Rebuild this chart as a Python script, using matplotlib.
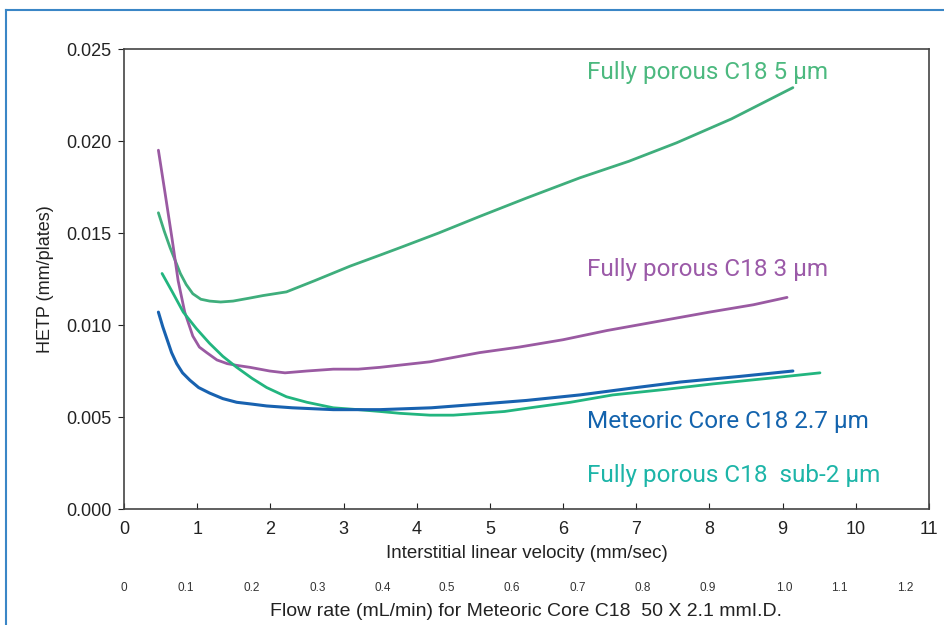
import matplotlib
matplotlib.use("Agg")
import matplotlib.pyplot as plt
from matplotlib.lines import Line2D

# ---- data ----
x_5um = [0.47, 0.55, 0.63, 0.70, 0.77, 0.85, 0.94, 1.05, 1.17, 1.32, 1.49, 1.70, 1.90, 2.22,
         2.60, 3.09, 3.50, 3.77, 4.30, 4.86, 5.50, 6.23, 6.90, 7.55, 8.30, 9.14]
y_5um = [0.0161, 0.0151, 0.0142, 0.0135, 0.0128, 0.0122, 0.0117, 0.0114, 0.0113, 0.01125, 0.0113, 0.01145, 0.0116, 0.0118,
         0.0124, 0.0132, 0.0138, 0.0142, 0.0150, 0.0159, 0.0169, 0.0180, 0.0189, 0.0199, 0.0212, 0.0229]

x_3um = [0.47, 0.56, 0.66, 0.74, 0.83, 0.94, 1.03, 1.13, 1.27, 1.41, 1.55, 1.72, 1.99, 2.20,
         2.50, 2.86, 3.20, 3.50, 4.18, 4.86, 5.40, 6.00, 6.60, 7.30, 8.00, 8.60, 9.06]
y_3um = [0.0195, 0.0172, 0.0146, 0.0124, 0.0107, 0.0094, 0.0088, 0.0085, 0.0081, 0.0079, 0.0078, 0.0077, 0.0075, 0.0074,
         0.0075, 0.0076, 0.0076, 0.0077, 0.0080, 0.0085, 0.0088, 0.0092, 0.0097, 0.0102, 0.0107, 0.0111, 0.0115]

x_core = [0.47, 0.53, 0.59, 0.65, 0.72, 0.80, 0.90, 1.02, 1.17, 1.35, 1.54, 1.75, 1.95, 2.30,
          2.86, 3.50, 4.20, 4.86, 5.50, 6.23, 7.00, 7.60, 8.40, 9.14]
y_core = [0.0107, 0.0099, 0.0092, 0.0085, 0.0079, 0.0074, 0.0070, 0.0066, 0.0063, 0.0060, 0.0058, 0.0057, 0.0056, 0.0055,
          0.0054, 0.0054, 0.0055, 0.0057, 0.0059, 0.0062, 0.0066, 0.0069, 0.0072, 0.0075]

x_sub2 = [0.52, 0.66, 0.81, 0.99, 1.17, 1.35, 1.54, 1.75, 1.95, 2.22, 2.50, 2.86, 3.20, 3.50,
          3.77, 4.18, 4.50, 4.86, 5.20, 5.55, 6.10, 6.68, 7.40, 8.05, 8.80, 9.51]
y_sub2 = [0.0128, 0.0118, 0.0107, 0.0098, 0.0090, 0.0083, 0.0077, 0.0071, 0.0066, 0.0061, 0.0058, 0.0055, 0.0054, 0.0053,
          0.0052, 0.0051, 0.0051, 0.0052, 0.0053, 0.0055, 0.0058, 0.0062, 0.0065, 0.0068, 0.0071, 0.0074]

x_ticks = [0, 1, 2, 3, 4, 5, 6, 7, 8, 9, 10, 11]
y_ticks = [0.000, 0.005, 0.010, 0.015, 0.020, 0.025]
flow_labels = ["0", "0.1", "0.2", "0.3", "0.4", "0.5", "0.6", "0.7", "0.8", "0.9", "1.0", "1.1", "1.2"]
flow_pos = [0.0, 0.85, 1.75, 2.65, 3.54, 4.41, 5.30, 6.20, 7.09, 7.98, 9.02, 9.77, 10.67]

series_labels = ["Fully porous C18 5 \u00b5m", "Fully porous C18 3 \u00b5m",
                 "Meteoric Core C18 2.7 \u00b5m", "Fully porous C18  sub-2 \u00b5m"]

# ---- plot ----
fig = plt.figure(figsize=(9.44, 6.25), dpi=100)
ax = fig.add_axes([124/944, 1-509/625, (929-124)/944, (509-49)/625])

c5 = "#3fae7c"
c3 = "#9a5aa2"
ccore = "#1862b0"
csub = "#22b57f"

kw = dict(solid_joinstyle="round", solid_capstyle="round")
ax.plot(x_5um, y_5um, color=c5, lw=2, **kw)
ax.plot(x_3um, y_3um, color=c3, lw=2, **kw)
ax.plot(x_sub2, y_sub2, color=csub, lw=2, **kw)
ax.plot(x_core, y_core, color=ccore, lw=2.2, **kw)

ax.set_xlim(0, 11)
ax.set_ylim(0, 0.025)
ax.set_xticks(x_ticks)
ax.set_yticks(y_ticks)
ax.set_yticklabels([f"{v:.3f}" for v in y_ticks])
ax.tick_params(axis='x', direction='in', length=4, pad=9, labelsize=13, colors="#222222")
ax.tick_params(axis='y', direction='out', length=4, pad=5, labelsize=13, colors="#222222")
for lab in ax.get_xticklabels() + ax.get_yticklabels():
    lab.set_family("Liberation Sans")
for sp in ax.spines.values():
    sp.set_color("#444444")
    sp.set_linewidth(1.2)

ax.set_xlabel("Interstitial linear velocity (mm/sec)", family="Liberation Sans", fontsize=13.5,
              color="#222222", labelpad=5)
ax.set_ylabel("HETP (mm/plates)", family="Liberation Sans", fontsize=13, color="#222222", labelpad=9)

tf = ax.get_xaxis_transform()
for p, lab in zip(flow_pos, flow_labels):
    ax.text(p, -0.172, lab, transform=tf, ha="center", va="center",
            family="Liberation Sans", fontsize=8.5, color="#333333")
ax.text(5.5, -0.222, "Flow rate (mL/min) for Meteoric Core C18  50 X 2.1 mmI.D.", transform=tf,
        ha="center", va="center", family="Liberation Sans", fontsize=14, color="#222222")

lab_x = 6.33
ax.text(lab_x, 0.02375, series_labels[0], color="#4cb97f", family="Roboto", fontsize=17.5, va="center")
ax.text(lab_x, 0.0130, series_labels[1], color="#9b5aa8", family="Roboto", fontsize=17.5, va="center")
ax.text(lab_x, 0.00478, series_labels[2], color="#1363ad", family="Roboto", fontsize=17.5, va="center")
ax.text(lab_x, 0.0018, series_labels[3], color="#1db5a8", family="Roboto", fontsize=17.5, va="center")

# outer blue frame (left and top)
fc = "#3a86c6"
fig.add_artist(Line2D([6/944, 6/944], [0, 1-10/625], color=fc, lw=1.5, transform=fig.transFigure))
fig.add_artist(Line2D([6/944, 1], [1-10/625, 1-10/625], color=fc, lw=1.5, transform=fig.transFigure))

fig.savefig("out.png", dpi=100)
